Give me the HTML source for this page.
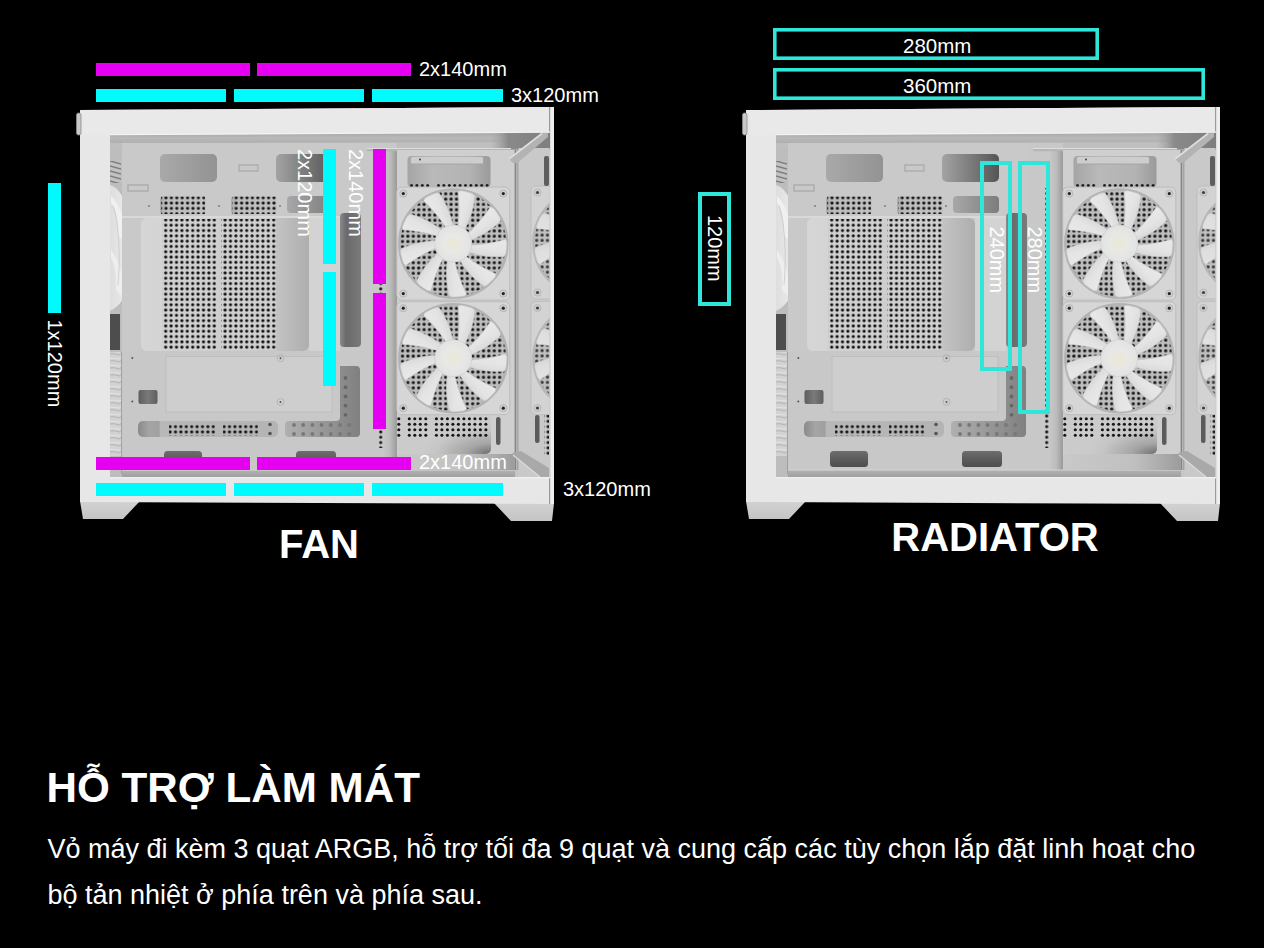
<!DOCTYPE html>
<html><head><meta charset="utf-8"><title>HỖ TRỢ LÀM MÁT</title>
<style>
html,body{margin:0;padding:0;background:#000;}
body{width:1264px;height:948px;overflow:hidden;position:relative;font-family:"Liberation Sans",sans-serif;color:#fff;}
h2{position:absolute;left:46.5px;top:763px;margin:0;font-size:42.2px;font-weight:bold;line-height:50px;white-space:nowrap;}
p{position:absolute;left:47.5px;top:826px;margin:0;font-size:27px;line-height:46px;white-space:nowrap;}
</style></head><body>
<svg width="1264" height="600" viewBox="0 0 1264 600" style="position:absolute;left:0;top:0">
<defs>
<linearGradient id="topBand" x1="0" y1="0" x2="0" y2="1"><stop offset="0" stop-color="#a8a8a8"/><stop offset="0.5" stop-color="#b8b8b8"/><stop offset="1" stop-color="#b0b0b0"/></linearGradient>
<linearGradient id="topCorner" x1="0" y1="0" x2="1" y2="0"><stop offset="0" stop-color="#a5a5a5" stop-opacity="0"/><stop offset="0.3" stop-color="#8a8a8a"/><stop offset="1" stop-color="#7e7e7e"/></linearGradient>
<linearGradient id="rearFan" x1="0" y1="0" x2="1" y2="0"><stop offset="0" stop-color="#dedede"/><stop offset="0.6" stop-color="#e8e8e8"/><stop offset="1" stop-color="#d8d8d8"/></linearGradient>
<linearGradient id="shadowL" x1="0" y1="0" x2="1" y2="0"><stop offset="0" stop-color="#c8c8c8"/><stop offset="0.5" stop-color="#bdbdbd"/><stop offset="1" stop-color="#9a9a9a"/></linearGradient>
<linearGradient id="sq" x1="0" y1="0" x2="1" y2="0"><stop offset="0" stop-color="#5e5e5e"/><stop offset="0.5" stop-color="#7a7a7a"/><stop offset="1" stop-color="#5e5e5e"/></linearGradient>
<linearGradient id="vent" x1="0" y1="0" x2="0" y2="1"><stop offset="0" stop-color="#6e6e6e"/><stop offset="0.5" stop-color="#5c5c5c"/><stop offset="1" stop-color="#4e4e4e"/></linearGradient>
<linearGradient id="botStrip" x1="0" y1="0" x2="0" y2="1"><stop offset="0" stop-color="#b3b3b3"/><stop offset="1" stop-color="#9d9d9d"/></linearGradient>
<radialGradient id="recess" cx="1" cy="1" r="0.75" fx="1" fy="1"><stop offset="0" stop-color="#6e6e6e"/><stop offset="0.35" stop-color="#a5a5a5"/><stop offset="0.8" stop-color="#c6c6c6"/><stop offset="1" stop-color="#cbcbcb"/></radialGradient>
<linearGradient id="belowRec" x1="0" y1="0" x2="1" y2="0"><stop offset="0" stop-color="#c9c9c9"/><stop offset="0.6" stop-color="#c0c0c0"/><stop offset="1" stop-color="#9c9c9c"/></linearGradient>
<linearGradient id="footG" x1="0" y1="0" x2="0" y2="1"><stop offset="0" stop-color="#d2d2d2"/><stop offset="1" stop-color="#c4c4c4"/></linearGradient>
<linearGradient id="cut1" x1="0" y1="0" x2="1" y2="0"><stop offset="0" stop-color="#a9a9a9"/><stop offset="1" stop-color="#939393"/></linearGradient>
<linearGradient id="cut2" x1="0" y1="0" x2="1" y2="0"><stop offset="0" stop-color="#a3a3a3"/><stop offset="1" stop-color="#555555"/></linearGradient>
<linearGradient id="cut3" x1="0" y1="0" x2="1" y2="0"><stop offset="0" stop-color="#a8a8a8"/><stop offset="1" stop-color="#7c7c7c"/></linearGradient>
<linearGradient id="cutF" x1="0" y1="0" x2="1" y2="0"><stop offset="0" stop-color="#a5a5a5"/><stop offset="0.3" stop-color="#b9b9b9"/><stop offset="0.75" stop-color="#b3b3b3"/><stop offset="1" stop-color="#9a9a9a"/></linearGradient>
<linearGradient id="panelG" x1="0" y1="0" x2="1" y2="0"><stop offset="0" stop-color="#d6d6d6"/><stop offset="0.75" stop-color="#c9c9c9"/><stop offset="1" stop-color="#aeaeae"/></linearGradient>
<linearGradient id="darkV" x1="0" y1="0" x2="1" y2="0"><stop offset="0" stop-color="#8a8a8a"/><stop offset="0.3" stop-color="#6a6a6a"/><stop offset="1" stop-color="#7a7a7a"/></linearGradient>
<linearGradient id="slot1" x1="0" y1="0" x2="1" y2="0"><stop offset="0" stop-color="#8a8a8a"/><stop offset="0.08" stop-color="#a5a5a5"/><stop offset="0.15" stop-color="#a0a0a0"/><stop offset="0.16" stop-color="#b8b8b8"/><stop offset="1" stop-color="#b4b4b4"/></linearGradient>
<linearGradient id="lcut" x1="0" y1="0" x2="1" y2="0"><stop offset="0" stop-color="#b0b0b0"/><stop offset="1" stop-color="#808080"/></linearGradient>
<linearGradient id="botG" x1="0" y1="0" x2="1" y2="0"><stop offset="0" stop-color="#c4c4c4"/><stop offset="0.8" stop-color="#b9b9b9"/><stop offset="1" stop-color="#8a8a8a"/></linearGradient>
<linearGradient id="bladeG" gradientUnits="userSpaceOnUse" x1="-25" y1="-30" x2="8" y2="-35"><stop offset="0" stop-color="#ebebeb"/><stop offset="0.6" stop-color="#e4e4e4"/><stop offset="1" stop-color="#d2d2d2"/></linearGradient>
<radialGradient id="hubG"><stop offset="0" stop-color="#ece8d4"/><stop offset="0.5" stop-color="#e8e8e6"/><stop offset="1" stop-color="#e2e2e2"/></radialGradient>
<pattern id="perf" x="1" width="5.4" height="5.3" patternUnits="userSpaceOnUse"><rect width="5.4" height="5.3" fill="#d0d0d0"/><circle cx="2.7" cy="2.65" r="1.6" fill="#111"/></pattern>
<pattern id="perfS" width="5.4" height="5.3" patternUnits="userSpaceOnUse"><circle cx="2.7" cy="2.65" r="1.6" fill="#151515"/></pattern>
<pattern id="perfS2" x="1.3" y="-1" width="5.4" height="5.3" patternUnits="userSpaceOnUse"><circle cx="2.7" cy="2.65" r="1.6" fill="#151515"/></pattern>
<linearGradient id="smallG" x1="0" y1="0" x2="1" y2="0"><stop offset="0" stop-color="#a9a9a9"/><stop offset="0.15" stop-color="#bcbcbc"/><stop offset="1" stop-color="#c2c2c2"/></linearGradient>
<pattern id="perfFan" x="0.5" y="0.5" width="5.4" height="5.3" patternUnits="userSpaceOnUse"><rect width="5.4" height="5.3" fill="#bdbdbd"/><circle cx="2.7" cy="2.65" r="1.65" fill="#1a1a1a"/></pattern>
<pattern id="stripes" width="11" height="5" patternUnits="userSpaceOnUse"><rect width="11" height="5" fill="#c2c2c2"/><path d="M0,1 L11,4" stroke="#7e7e7e" stroke-width="1.4"/></pattern>
<pattern id="ribs" width="12" height="7" patternUnits="userSpaceOnUse"><rect width="12" height="7" fill="#d2d2d2"/><path d="M0,4 Q6,3 12,5" stroke="#b4b4b4" stroke-width="1" fill="none"/><path d="M0,1.5 Q6,1 12,2" stroke="#e4e4e4" stroke-width="0.8" fill="none"/></pattern>
<clipPath id="glassClip"><rect x="518.5" y="148" width="31" height="330"/></clipPath>
<g id="fan"><rect x="-56.5" y="-56.5" width="113" height="113" rx="5" fill="#d6d6d6" stroke="#bdbdbd" stroke-width="1"/><circle r="54" fill="url(#perfFan)"/><circle r="54" fill="none" stroke="#b3b3b3" stroke-width="2.5"/><path d="M-3.5,-16.6 L-4.5,-19.0 L-5.5,-21.4 L-6.5,-23.7 L-7.5,-26.1 L-8.6,-28.4 L-9.7,-30.7 L-10.9,-33.0 L-12.1,-35.3 L-13.3,-37.5 L-14.6,-39.8 L-15.9,-42.0 L-17.3,-44.2 L-18.7,-46.3 L-20.1,-48.5 L-17.7,-50.5 L-14.9,-51.4 L-12.0,-52.1 L-9.1,-52.7 L-6.2,-53.1 L-3.2,-52.4 L-2.2,-49.9 L-1.4,-47.4 L-0.5,-44.9 L0.2,-42.4 L0.9,-39.8 L1.5,-37.3 L2.0,-34.7 L2.4,-32.1 L2.8,-29.5 L3.1,-27.0 L3.3,-24.4 L3.4,-21.8 L3.5,-19.2 L3.5,-16.6 Z" fill="url(#bladeG)" stroke="#c9c9c9" stroke-width="0.6" transform="rotate(27.8)"/><path d="M-3.5,-16.6 L-4.5,-19.0 L-5.5,-21.4 L-6.5,-23.7 L-7.5,-26.1 L-8.6,-28.4 L-9.7,-30.7 L-10.9,-33.0 L-12.1,-35.3 L-13.3,-37.5 L-14.6,-39.8 L-15.9,-42.0 L-17.3,-44.2 L-18.7,-46.3 L-20.1,-48.5 L-17.7,-50.5 L-14.9,-51.4 L-12.0,-52.1 L-9.1,-52.7 L-6.2,-53.1 L-3.2,-52.4 L-2.2,-49.9 L-1.4,-47.4 L-0.5,-44.9 L0.2,-42.4 L0.9,-39.8 L1.5,-37.3 L2.0,-34.7 L2.4,-32.1 L2.8,-29.5 L3.1,-27.0 L3.3,-24.4 L3.4,-21.8 L3.5,-19.2 L3.5,-16.6 Z" fill="url(#bladeG)" stroke="#c9c9c9" stroke-width="0.6" transform="rotate(67.8)"/><path d="M-3.5,-16.6 L-4.5,-19.0 L-5.5,-21.4 L-6.5,-23.7 L-7.5,-26.1 L-8.6,-28.4 L-9.7,-30.7 L-10.9,-33.0 L-12.1,-35.3 L-13.3,-37.5 L-14.6,-39.8 L-15.9,-42.0 L-17.3,-44.2 L-18.7,-46.3 L-20.1,-48.5 L-17.7,-50.5 L-14.9,-51.4 L-12.0,-52.1 L-9.1,-52.7 L-6.2,-53.1 L-3.2,-52.4 L-2.2,-49.9 L-1.4,-47.4 L-0.5,-44.9 L0.2,-42.4 L0.9,-39.8 L1.5,-37.3 L2.0,-34.7 L2.4,-32.1 L2.8,-29.5 L3.1,-27.0 L3.3,-24.4 L3.4,-21.8 L3.5,-19.2 L3.5,-16.6 Z" fill="url(#bladeG)" stroke="#c9c9c9" stroke-width="0.6" transform="rotate(107.8)"/><path d="M-3.5,-16.6 L-4.5,-19.0 L-5.5,-21.4 L-6.5,-23.7 L-7.5,-26.1 L-8.6,-28.4 L-9.7,-30.7 L-10.9,-33.0 L-12.1,-35.3 L-13.3,-37.5 L-14.6,-39.8 L-15.9,-42.0 L-17.3,-44.2 L-18.7,-46.3 L-20.1,-48.5 L-17.7,-50.5 L-14.9,-51.4 L-12.0,-52.1 L-9.1,-52.7 L-6.2,-53.1 L-3.2,-52.4 L-2.2,-49.9 L-1.4,-47.4 L-0.5,-44.9 L0.2,-42.4 L0.9,-39.8 L1.5,-37.3 L2.0,-34.7 L2.4,-32.1 L2.8,-29.5 L3.1,-27.0 L3.3,-24.4 L3.4,-21.8 L3.5,-19.2 L3.5,-16.6 Z" fill="url(#bladeG)" stroke="#c9c9c9" stroke-width="0.6" transform="rotate(147.8)"/><path d="M-3.5,-16.6 L-4.5,-19.0 L-5.5,-21.4 L-6.5,-23.7 L-7.5,-26.1 L-8.6,-28.4 L-9.7,-30.7 L-10.9,-33.0 L-12.1,-35.3 L-13.3,-37.5 L-14.6,-39.8 L-15.9,-42.0 L-17.3,-44.2 L-18.7,-46.3 L-20.1,-48.5 L-17.7,-50.5 L-14.9,-51.4 L-12.0,-52.1 L-9.1,-52.7 L-6.2,-53.1 L-3.2,-52.4 L-2.2,-49.9 L-1.4,-47.4 L-0.5,-44.9 L0.2,-42.4 L0.9,-39.8 L1.5,-37.3 L2.0,-34.7 L2.4,-32.1 L2.8,-29.5 L3.1,-27.0 L3.3,-24.4 L3.4,-21.8 L3.5,-19.2 L3.5,-16.6 Z" fill="url(#bladeG)" stroke="#c9c9c9" stroke-width="0.6" transform="rotate(187.8)"/><path d="M-3.5,-16.6 L-4.5,-19.0 L-5.5,-21.4 L-6.5,-23.7 L-7.5,-26.1 L-8.6,-28.4 L-9.7,-30.7 L-10.9,-33.0 L-12.1,-35.3 L-13.3,-37.5 L-14.6,-39.8 L-15.9,-42.0 L-17.3,-44.2 L-18.7,-46.3 L-20.1,-48.5 L-17.7,-50.5 L-14.9,-51.4 L-12.0,-52.1 L-9.1,-52.7 L-6.2,-53.1 L-3.2,-52.4 L-2.2,-49.9 L-1.4,-47.4 L-0.5,-44.9 L0.2,-42.4 L0.9,-39.8 L1.5,-37.3 L2.0,-34.7 L2.4,-32.1 L2.8,-29.5 L3.1,-27.0 L3.3,-24.4 L3.4,-21.8 L3.5,-19.2 L3.5,-16.6 Z" fill="url(#bladeG)" stroke="#c9c9c9" stroke-width="0.6" transform="rotate(227.8)"/><path d="M-3.5,-16.6 L-4.5,-19.0 L-5.5,-21.4 L-6.5,-23.7 L-7.5,-26.1 L-8.6,-28.4 L-9.7,-30.7 L-10.9,-33.0 L-12.1,-35.3 L-13.3,-37.5 L-14.6,-39.8 L-15.9,-42.0 L-17.3,-44.2 L-18.7,-46.3 L-20.1,-48.5 L-17.7,-50.5 L-14.9,-51.4 L-12.0,-52.1 L-9.1,-52.7 L-6.2,-53.1 L-3.2,-52.4 L-2.2,-49.9 L-1.4,-47.4 L-0.5,-44.9 L0.2,-42.4 L0.9,-39.8 L1.5,-37.3 L2.0,-34.7 L2.4,-32.1 L2.8,-29.5 L3.1,-27.0 L3.3,-24.4 L3.4,-21.8 L3.5,-19.2 L3.5,-16.6 Z" fill="url(#bladeG)" stroke="#c9c9c9" stroke-width="0.6" transform="rotate(267.8)"/><path d="M-3.5,-16.6 L-4.5,-19.0 L-5.5,-21.4 L-6.5,-23.7 L-7.5,-26.1 L-8.6,-28.4 L-9.7,-30.7 L-10.9,-33.0 L-12.1,-35.3 L-13.3,-37.5 L-14.6,-39.8 L-15.9,-42.0 L-17.3,-44.2 L-18.7,-46.3 L-20.1,-48.5 L-17.7,-50.5 L-14.9,-51.4 L-12.0,-52.1 L-9.1,-52.7 L-6.2,-53.1 L-3.2,-52.4 L-2.2,-49.9 L-1.4,-47.4 L-0.5,-44.9 L0.2,-42.4 L0.9,-39.8 L1.5,-37.3 L2.0,-34.7 L2.4,-32.1 L2.8,-29.5 L3.1,-27.0 L3.3,-24.4 L3.4,-21.8 L3.5,-19.2 L3.5,-16.6 Z" fill="url(#bladeG)" stroke="#c9c9c9" stroke-width="0.6" transform="rotate(307.8)"/><path d="M-3.5,-16.6 L-4.5,-19.0 L-5.5,-21.4 L-6.5,-23.7 L-7.5,-26.1 L-8.6,-28.4 L-9.7,-30.7 L-10.9,-33.0 L-12.1,-35.3 L-13.3,-37.5 L-14.6,-39.8 L-15.9,-42.0 L-17.3,-44.2 L-18.7,-46.3 L-20.1,-48.5 L-17.7,-50.5 L-14.9,-51.4 L-12.0,-52.1 L-9.1,-52.7 L-6.2,-53.1 L-3.2,-52.4 L-2.2,-49.9 L-1.4,-47.4 L-0.5,-44.9 L0.2,-42.4 L0.9,-39.8 L1.5,-37.3 L2.0,-34.7 L2.4,-32.1 L2.8,-29.5 L3.1,-27.0 L3.3,-24.4 L3.4,-21.8 L3.5,-19.2 L3.5,-16.6 Z" fill="url(#bladeG)" stroke="#c9c9c9" stroke-width="0.6" transform="rotate(347.8)"/><circle r="18.5" fill="url(#hubG)" stroke="#d0d0d0" stroke-width="0.8"/><circle cx="-50" cy="-50" r="3.6" fill="#cfcfcf" stroke="#b0b0b0" stroke-width="0.8"/><circle cx="-50" cy="-50" r="1.6" fill="#222"/><circle cx="-50" cy="50" r="3.6" fill="#cfcfcf" stroke="#b0b0b0" stroke-width="0.8"/><circle cx="-50" cy="50" r="1.6" fill="#222"/><circle cx="50" cy="-50" r="3.6" fill="#cfcfcf" stroke="#b0b0b0" stroke-width="0.8"/><circle cx="50" cy="-50" r="1.6" fill="#222"/><circle cx="50" cy="50" r="3.6" fill="#cfcfcf" stroke="#b0b0b0" stroke-width="0.8"/><circle cx="50" cy="50" r="1.6" fill="#222"/></g>
<g id="caseL"><path d="M80,501 L140,501 L123,519 L83,519 Z" fill="url(#footG)" /><path d="M494,503 L554,503 L552,521 L511,521 Z" fill="url(#footG)" /><path d="M80,110 L550,107 L554,107 L554,504 L80,502 Z" fill="#e7e7e7" /><path d="M80,110 L550,107 L550,133 L80,135 Z" fill="#e9e9e9" /><rect x="76.5" y="113" width="4.5" height="22" rx="2" fill="#c9c9c9" stroke="#8a8a8a" stroke-width="0.8"/><rect x="550" y="107" width="4" height="397" rx="0" fill="#eeeeee" /><rect x="549" y="107" width="1.2" height="397" rx="0" fill="#9a9a9a" /><path d="M110,135 L550,132.5 L550,478 L110,478 Z" fill="#c6c6c6" /><path d="M110,135 L550,132.5 L550,148 L110,148 Z" fill="#bfbfbf" /><path d="M110,135 L550,132.5 L550,142 L110,143 Z" fill="url(#topBand)" /><rect x="110" y="138" width="440" height="0.8" rx="0" fill="#bababa" /><rect x="490" y="132.5" width="60" height="17" rx="0" fill="url(#topCorner)" /><rect x="110" y="148" width="12" height="330" rx="0" fill="#bdbdbd" /><rect x="110" y="161" width="11" height="22" rx="0" fill="url(#stripes)" /><path d="M110,185 C124,189 132,215 133,248 C133,280 126,304 110,311 Z" fill="url(#rearFan)" /><path d="M111,196 C121,205 126,222 124,240 L118,236 C119,222 116,208 111,203 Z" fill="#f0f0f0" /><path d="M111,250 C120,262 125,278 122,296 L116,290 C117,276 115,264 111,258 Z" fill="#eeeeee" /><path d="M113,206 C118,220 121,250 118,285" fill="none" stroke="#c8c8c8" stroke-width="0.8"/><path d="M126,205 C130,225 131,265 126,292" fill="none" stroke="#cdcdcd" stroke-width="0.8"/><rect x="110" y="314" width="10" height="36" rx="0" fill="#4d4d4d" /><rect x="110" y="352" width="12" height="104" rx="0" fill="url(#ribs)" /><rect x="121" y="352" width="1.2" height="122" rx="0" fill="#a0a0a0" /><rect x="122.2" y="352" width="0.8" height="122" rx="0" fill="#e0e0e0" /><rect x="122" y="143" width="245" height="327" rx="0" fill="#c9c9c9" /><rect x="160" y="154" width="57" height="28" rx="5" fill="url(#cut1)" /><rect x="276" y="154" width="57" height="28" rx="5" fill="url(#cut2)" /><rect x="239" y="165" width="19" height="6" rx="0" fill="none" stroke="#a8a8a8" stroke-width="1.2"/><rect x="128" y="185" width="20" height="6" rx="0" fill="none" stroke="#a9a9a9" stroke-width="1.3"/><rect x="160" y="196" width="46" height="18.5" rx="4" fill="url(#smallG)" /><rect x="161" y="196.5" width="44" height="17.5" rx="0" fill="url(#perfS2)" /><rect x="231" y="196" width="46" height="18.5" rx="4" fill="url(#smallG)" /><rect x="232" y="196.5" width="44" height="17.5" rx="0" fill="url(#perfS2)" /><rect x="287" y="196" width="46" height="17" rx="4" fill="url(#cut3)" /><circle cx="149" cy="206" r="0.9" fill="#777"/><circle cx="219" cy="206" r="0.9" fill="#777"/><circle cx="280" cy="206" r="0.9" fill="#777"/><rect x="122" y="216" width="240" height="2" rx="0" fill="#d9d9d9" /><rect x="141" y="218" width="168" height="133" rx="6" fill="url(#panelG)" /><rect x="162" y="219" width="55" height="131" rx="0" fill="url(#perf)" /><rect x="221" y="219" width="55" height="131" rx="0" fill="url(#perf)" /><rect x="309" y="218" width="31" height="133" rx="0" fill="#d3d3d3" /><rect x="340" y="213" width="21" height="134" rx="4" fill="url(#darkV)" /><rect x="361" y="143" width="36" height="327" rx="0" fill="#c8c8c8" /><rect x="383" y="150" width="14" height="320" rx="0" fill="url(#shadowL)" /><rect x="367" y="149" width="144" height="2.2" rx="0" fill="#b5b5b5" /><rect x="367" y="148" width="144" height="1" rx="0" fill="#dedede" /><rect x="378.5" y="188" width="5.4" height="260" rx="0" fill="url(#perfS)" /><rect x="122" y="351" width="240" height="119" rx="0" fill="#c8c8c8" /><rect x="166" y="356.5" width="166" height="55.5" rx="0" fill="#cecece" stroke="#bebebe" stroke-width="1"/><circle cx="132.3" cy="358" r="1" fill="#555"/><circle cx="132.3" cy="401.5" r="1" fill="#555"/><circle cx="280.5" cy="358.2" r="3.5" fill="none" stroke="#b5b5b5"/><circle cx="280.5" cy="358.2" r="1" fill="#555"/><circle cx="280.5" cy="401.9" r="3.5" fill="none" stroke="#b5b5b5"/><circle cx="280.5" cy="401.9" r="1" fill="#555"/><rect x="138.5" y="390" width="19" height="14" rx="2" fill="url(#sq)" /><rect x="138" y="421" width="140" height="16" rx="5" fill="url(#slot1)" /><rect x="169" y="423" width="46" height="13" rx="0" fill="url(#perfS)" /><rect x="223" y="423" width="35" height="13" rx="0" fill="url(#perfS)" /><circle cx="270" cy="424.5" r="1.8" fill="#555"/><circle cx="270" cy="433.5" r="1.8" fill="#555"/><path d="M340,366 L356,366 Q360,366 360,370 L360,433 Q360,437 356,437 L289,437 Q285,437 285,433 L285,425 Q285,421 289,421 L336,421 Q340,421 340,417 Z" fill="url(#lcut)" /><circle cx="345.5" cy="378.0" r="1.9" fill="#666"/><circle cx="345.5" cy="387.2" r="1.9" fill="#666"/><circle cx="345.5" cy="396.4" r="1.9" fill="#666"/><circle cx="345.5" cy="405.6" r="1.9" fill="#666"/><circle cx="345.5" cy="414.8" r="1.9" fill="#666"/><circle cx="294.0" cy="425" r="1.9" fill="#777"/><circle cx="294.0" cy="434" r="1.9" fill="#777"/><circle cx="303.2" cy="425" r="1.9" fill="#777"/><circle cx="303.2" cy="434" r="1.9" fill="#777"/><circle cx="312.4" cy="425" r="1.9" fill="#777"/><circle cx="312.4" cy="434" r="1.9" fill="#777"/><circle cx="321.6" cy="425" r="1.9" fill="#777"/><circle cx="321.6" cy="434" r="1.9" fill="#777"/><circle cx="330.8" cy="425" r="1.9" fill="#777"/><circle cx="330.8" cy="434" r="1.9" fill="#777"/><circle cx="340.0" cy="425" r="1.9" fill="#777"/><circle cx="340.0" cy="434" r="1.9" fill="#777"/><circle cx="349.2" cy="425" r="1.9" fill="#777"/><circle cx="349.2" cy="434" r="1.9" fill="#777"/><rect x="164" y="451" width="38" height="16" rx="3.5" fill="url(#vent)" /><rect x="296" y="451" width="40" height="16" rx="3.5" fill="url(#vent)" /><rect x="122" y="470" width="393" height="8" rx="0" fill="url(#botStrip)" /><rect x="122" y="469.5" width="393" height="1" rx="0" fill="#d6d6d6" /><rect x="397" y="150" width="118" height="320" rx="0" fill="#cfcfcf" /><rect x="407.5" y="156" width="83" height="31" rx="4" fill="url(#cutF)" /><rect x="411" y="157" width="72" height="7" rx="1.5" fill="#cdcdcd" /><rect x="411" y="163.5" width="72" height="1" rx="0" fill="#a5a5a5" /><circle cx="420" cy="159.5" r="0.9" fill="#333"/><circle cx="411.5" cy="185.6" r="1.5" fill="#1a1a1a"/><circle cx="416.9" cy="185.6" r="1.5" fill="#1a1a1a"/><circle cx="422.3" cy="185.6" r="1.5" fill="#1a1a1a"/><circle cx="427.7" cy="185.6" r="1.5" fill="#1a1a1a"/><circle cx="438.5" cy="185.6" r="1.5" fill="#1a1a1a"/><circle cx="443.9" cy="185.6" r="1.5" fill="#1a1a1a"/><circle cx="449.3" cy="185.6" r="1.5" fill="#1a1a1a"/><circle cx="454.7" cy="185.6" r="1.5" fill="#1a1a1a"/><circle cx="460.1" cy="185.6" r="1.5" fill="#1a1a1a"/><circle cx="465.5" cy="185.6" r="1.5" fill="#1a1a1a"/><circle cx="470.9" cy="185.6" r="1.5" fill="#1a1a1a"/><circle cx="476.3" cy="185.6" r="1.5" fill="#1a1a1a"/><circle cx="481.7" cy="185.6" r="1.5" fill="#1a1a1a"/><circle cx="487.1" cy="185.6" r="1.5" fill="#1a1a1a"/><rect x="397" y="454" width="118" height="16" rx="0" fill="url(#belowRec)" /><rect x="398" y="414" width="93" height="40" rx="5" fill="url(#recess)" /><circle cx="398.8" cy="418.8" r="1.55" fill="#161616"/><circle cx="409.3" cy="418.8" r="1.55" fill="#161616"/><circle cx="414.8" cy="418.8" r="1.55" fill="#161616"/><circle cx="420.3" cy="418.8" r="1.55" fill="#161616"/><circle cx="425.8" cy="418.8" r="1.55" fill="#161616"/><circle cx="436.4" cy="418.8" r="1.55" fill="#161616"/><circle cx="441.9" cy="418.8" r="1.55" fill="#161616"/><circle cx="447.4" cy="418.8" r="1.55" fill="#161616"/><circle cx="452.9" cy="418.8" r="1.55" fill="#161616"/><circle cx="458.4" cy="418.8" r="1.55" fill="#161616"/><circle cx="463.9" cy="418.8" r="1.55" fill="#161616"/><circle cx="469.4" cy="418.8" r="1.55" fill="#161616"/><circle cx="474.9" cy="418.8" r="1.55" fill="#161616"/><circle cx="480.4" cy="418.8" r="1.55" fill="#161616"/><circle cx="485.9" cy="418.8" r="1.55" fill="#161616"/><circle cx="398.8" cy="424.3" r="1.55" fill="#161616"/><circle cx="409.3" cy="424.3" r="1.55" fill="#161616"/><circle cx="414.8" cy="424.3" r="1.55" fill="#161616"/><circle cx="420.3" cy="424.3" r="1.55" fill="#161616"/><circle cx="425.8" cy="424.3" r="1.55" fill="#161616"/><circle cx="436.4" cy="424.3" r="1.55" fill="#161616"/><circle cx="441.9" cy="424.3" r="1.55" fill="#161616"/><circle cx="447.4" cy="424.3" r="1.55" fill="#161616"/><circle cx="452.9" cy="424.3" r="1.55" fill="#161616"/><circle cx="458.4" cy="424.3" r="1.55" fill="#161616"/><circle cx="463.9" cy="424.3" r="1.55" fill="#161616"/><circle cx="469.4" cy="424.3" r="1.55" fill="#161616"/><circle cx="474.9" cy="424.3" r="1.55" fill="#161616"/><circle cx="480.4" cy="424.3" r="1.55" fill="#161616"/><circle cx="485.9" cy="424.3" r="1.55" fill="#161616"/><circle cx="398.8" cy="429.8" r="1.55" fill="#161616"/><circle cx="409.3" cy="429.8" r="1.55" fill="#161616"/><circle cx="414.8" cy="429.8" r="1.55" fill="#161616"/><circle cx="420.3" cy="429.8" r="1.55" fill="#161616"/><circle cx="425.8" cy="429.8" r="1.55" fill="#161616"/><circle cx="436.4" cy="429.8" r="1.55" fill="#161616"/><circle cx="441.9" cy="429.8" r="1.55" fill="#161616"/><circle cx="447.4" cy="429.8" r="1.55" fill="#161616"/><circle cx="452.9" cy="429.8" r="1.55" fill="#161616"/><circle cx="458.4" cy="429.8" r="1.55" fill="#161616"/><circle cx="463.9" cy="429.8" r="1.55" fill="#161616"/><circle cx="469.4" cy="429.8" r="1.55" fill="#161616"/><circle cx="474.9" cy="429.8" r="1.55" fill="#161616"/><circle cx="480.4" cy="429.8" r="1.55" fill="#161616"/><circle cx="485.9" cy="429.8" r="1.55" fill="#161616"/><circle cx="398.8" cy="435.3" r="1.55" fill="#161616"/><circle cx="409.3" cy="435.3" r="1.55" fill="#161616"/><circle cx="414.8" cy="435.3" r="1.55" fill="#161616"/><circle cx="420.3" cy="435.3" r="1.55" fill="#161616"/><circle cx="425.8" cy="435.3" r="1.55" fill="#161616"/><circle cx="436.4" cy="435.3" r="1.55" fill="#161616"/><circle cx="441.9" cy="435.3" r="1.55" fill="#161616"/><circle cx="447.4" cy="435.3" r="1.55" fill="#161616"/><circle cx="452.9" cy="435.3" r="1.55" fill="#161616"/><circle cx="458.4" cy="435.3" r="1.55" fill="#161616"/><circle cx="463.9" cy="435.3" r="1.55" fill="#161616"/><circle cx="469.4" cy="435.3" r="1.55" fill="#161616"/><circle cx="474.9" cy="435.3" r="1.55" fill="#161616"/><circle cx="480.4" cy="435.3" r="1.55" fill="#161616"/><circle cx="485.9" cy="435.3" r="1.55" fill="#161616"/><rect x="496" y="417" width="4.5" height="28" rx="2.2" fill="#5b5b5b" /><use href="#fan" transform="translate(453.3,243.6)"/><use href="#fan" transform="translate(453.3,358.2)"/><rect x="514.5" y="150" width="4" height="320" rx="0" fill="#b4b4b4" /><rect x="514.8" y="150" width="1" height="320" rx="0" fill="#7c7c7c" /><rect x="517.6" y="150" width="0.9" height="320" rx="0" fill="#8e8e8e" /><rect x="518.5" y="148" width="31" height="330" rx="0" fill="#cacaca" /><g clip-path="url(#glassClip)"><use href="#fan" transform="translate(587.5,242.5)"/><use href="#fan" transform="translate(587.5,358)"/></g><rect x="518.5" y="148" width="31" height="330" rx="0" fill="rgba(200,200,200,0.18)" /><rect x="544" y="156" width="5" height="30" rx="2" fill="#5e5e5e" /><rect x="535" y="415" width="4.5" height="28" rx="2" fill="#5b5b5b" /><rect x="544" y="415" width="5" height="40" rx="0" fill="url(#perfS)" /><path d="M509,159 L542,133 L548,133 L548,137 L517,163 L513,163 Z" fill="#b3b3b3" /><path d="M509,159 L542,133.5" fill="none" stroke="#dedede" stroke-width="1.6"/><path d="M512,453 L541,478 L549,478 L549,468 L521,451 Z" fill="#a9a9a9" /><path d="M513,455 L540,477" fill="none" stroke="#d8d8d8" stroke-width="1.6"/><path d="M110,134 L550,131.5 L550,132.8 L110,135.3 Z" fill="#f3f3f3" /><rect x="110" y="477" width="440" height="1.3" rx="0" fill="#f0f0f0" /></g>
</defs>
<use href="#caseL"/>
<use href="#caseL" transform="translate(666,0)"/>
<rect x="96" y="63" width="154" height="13" rx="0" fill="#e600f2" /><rect x="257" y="63" width="154" height="13" rx="0" fill="#e600f2" /><rect x="96" y="89" width="130" height="13" rx="0" fill="#00fbff" /><rect x="234" y="89" width="130" height="13" rx="0" fill="#00fbff" /><rect x="372" y="89" width="131" height="13" rx="0" fill="#00fbff" /><text x="419" y="76" style="font-family:Liberation Sans,sans-serif;font-size:20px;fill:#fff">2x140mm</text><text x="511" y="102" style="font-family:Liberation Sans,sans-serif;font-size:20px;fill:#fff">3x120mm</text><rect x="48" y="183" width="13" height="130" rx="0" fill="#00fbff" /><text transform="translate(47.5,319.5) rotate(90)" style="font-family:Liberation Sans,sans-serif;font-size:20px;fill:#fff" x="0" y="0" dy="-0" >1x120mm</text><rect x="323" y="149" width="13" height="115" rx="0" fill="#00fbff" /><rect x="323" y="272" width="13" height="114" rx="0" fill="#00fbff" /><rect x="373" y="149" width="13" height="135" rx="0" fill="#e600f2" /><rect x="373" y="293" width="13" height="136" rx="0" fill="#e600f2" /><text transform="translate(298,149) rotate(90)" style="font-family:Liberation Sans,sans-serif;font-size:20px;fill:#fff">2x120mm</text><text transform="translate(349,149) rotate(90)" style="font-family:Liberation Sans,sans-serif;font-size:20px;fill:#fff">2x140mm</text><rect x="96" y="457" width="154" height="13" rx="0" fill="#e600f2" /><rect x="257" y="457" width="154" height="13" rx="0" fill="#e600f2" /><text x="419" y="469" style="font-family:Liberation Sans,sans-serif;font-size:20px;fill:#fff">2x140mm</text><rect x="96" y="483" width="130" height="13" rx="0" fill="#00fbff" /><rect x="234" y="483" width="130" height="13" rx="0" fill="#00fbff" /><rect x="372" y="483" width="131" height="13" rx="0" fill="#00fbff" /><text x="563" y="496" style="font-family:Liberation Sans,sans-serif;font-size:20px;fill:#fff">3x120mm</text><text x="319" y="558" text-anchor="middle" style="font-family:Liberation Sans,sans-serif;font-weight:bold;font-size:40px;fill:#fff">FAN</text><rect x="774.8" y="29.8" width="322.4" height="28.4" fill="none" stroke="#2ee6da" stroke-width="3.6"/><rect x="774.8" y="69.8" width="428.4" height="28.4" fill="none" stroke="#2ee6da" stroke-width="3.6"/><text x="903" y="52.5" style="font-family:Liberation Sans,sans-serif;font-size:20px;fill:#fff;font-size:20.5px">280mm</text><text x="903" y="92.5" style="font-family:Liberation Sans,sans-serif;font-size:20px;fill:#fff;font-size:20.5px">360mm</text><rect x="700.0" y="194.0" width="29" height="110" fill="none" stroke="#2ee6da" stroke-width="4"/><text transform="translate(707.5,215) rotate(90)" style="font-family:Liberation Sans,sans-serif;font-size:20px;fill:#fff">120mm</text><rect x="982.0" y="163.0" width="28" height="206" fill="none" stroke="#2ee6da" stroke-width="4"/><rect x="1020.0" y="163.0" width="28" height="249" fill="none" stroke="#2ee6da" stroke-width="4"/><text transform="translate(989.5,226.5) rotate(90)" style="font-family:Liberation Sans,sans-serif;font-size:20px;fill:#fff">240mm</text><text transform="translate(1027.5,226.5) rotate(90)" style="font-family:Liberation Sans,sans-serif;font-size:20px;fill:#fff">280mm</text><text x="995" y="551" text-anchor="middle" style="font-family:Liberation Sans,sans-serif;font-weight:bold;font-size:40px;fill:#fff">RADIATOR</text>
</svg>
<h2>HỖ TRỢ LÀM MÁT</h2>
<p>Vỏ máy đi kèm 3 quạt ARGB, hỗ trợ tối đa 9 quạt và cung cấp các tùy chọn lắp đặt linh hoạt cho<br>bộ tản nhiệt ở phía trên và phía sau.</p>
</body></html>
